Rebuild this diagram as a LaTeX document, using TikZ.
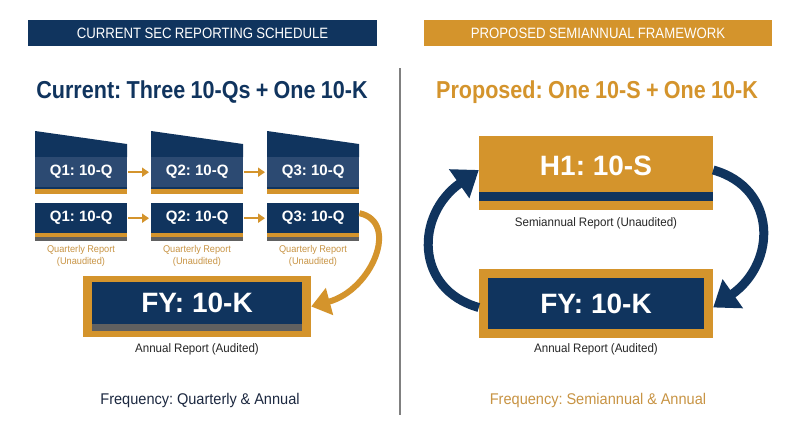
\documentclass[tikz,border=0pt]{standalone}
\usepackage{fontspec}
\setmainfont{Liberation Sans}
\newfontfamily\narrowfont[FakeStretch=0.88,WordSpace=0.88]{Liberation Sans}
\newfontfamily\lblfont[FakeStretch=0.94,WordSpace=0.94]{Liberation Sans}
\frenchspacing
\usetikzlibrary{arrows.meta,positioning}
\definecolor{navy}{RGB}{16,52,94}
\definecolor{navylight}{RGB}{44,74,114}
\definecolor{gold}{RGB}{212,148,44}
\definecolor{goldtext}{RGB}{200,148,68}
\definecolor{band}{RGB}{96,96,96}
\definecolor{ink}{RGB}{28,40,64}
\definecolor{divider}{RGB}{128,128,128}

\begin{document}
\begin{tikzpicture}[x=1pt,y=-1pt,
		qbox/.style={minimum width=92pt,minimum height=30pt,inner sep=0pt,text=white,font=\bfseries\fontsize{15}{15}\selectfont},
		bigbox/.style={inner sep=0pt,text=white,font=\bfseries\fontsize{28}{28}\selectfont},
		banner/.style={minimum height=26pt,inner sep=0pt,text=white,font=\narrowfont\fontsize{15}{15}\selectfont},
		headline/.style={font=\narrowfont\bfseries\fontsize{24.5}{24.5}\selectfont},
		qlbl/.style={align=center,text=goldtext,font=\lblfont\fontsize{9.8}{12}\selectfont},
		lbl/.style={text=black!85,font=\lblfont\fontsize{12.3}{14}\selectfont},
		freq/.style={font=\lblfont\fontsize{15.5}{16}\selectfont},
		garrow/.style={draw=gold,line width=2pt,shorten <=1pt,shorten >=2pt,-{Triangle[width=9pt,length=7pt]}},
		navarrow/.style={draw=navy,line width=9pt,-{Triangle[width=34pt,length=24pt]}}]
	\path[fill=white,use as bounding box] (0,0) rectangle (800,447);
	\node[banner,fill=navy,minimum width=349pt] (hl) at (202.5,33) {CURRENT SEC REPORTING SCHEDULE};
	\node[banner,fill=gold,minimum width=348pt] (hr) at (598,33) {PROPOSED SEMIANNUAL FRAMEWORK};
	\node[headline,text=navy] (cl) at (202,92) {Current: Three 10-Qs + One 10-K};
	\node[headline,text=gold] (pl) at (597,92) {Proposed: One 10-S + One 10-K};
	\draw[draw=divider,line width=1.3pt] (400,68) -- (400,415);
	\foreach \i/\xl in {1/35,2/151,3/267}{
		\fill[navy] (\xl,131) -- (\xl+92,144) -- (\xl+92,157) -- (\xl,157) -- cycle;
		\node[qbox,fill=navylight,anchor=north west] (t\i) at (\xl,157) {Q\i: 10-Q};
		\fill[navy] (\xl,187) rectangle (\xl+92,189);
		\fill[gold] (\xl,189) rectangle (\xl+92,194);
		\node[qbox,fill=navy,anchor=north west] (b\i) at (\xl,203) {Q\i: 10-Q};
		\fill[gold] (\xl,233) rectangle (\xl+92,236.5);
		\fill[band] (\xl,236.5) rectangle (\xl+92,241);
		\node[qlbl] (l\i) at (\xl+46,256) {Quarterly Report\\(Unaudited)};
	}
	\foreach \a/\b in {1/2,2/3}{
		\draw[garrow] (t\a) -- (t\b);
		\draw[garrow] (b\a) -- (b\b);
	}
	\node[fill=gold,minimum width=228pt,minimum height=61pt] (fyl) at (197,306.5) {};
	\fill[band] (92,324) rectangle (302,331);
	\node[bigbox,fill=navy,minimum width=210pt,minimum height=42pt] (fylt) at (197,303) {FY: 10-K};
	\node[lbl] (al) at (197,349) {Annual Report (Audited)};
	\draw[draw=gold,line width=6pt,-{Triangle[width=27pt,length=19pt]}]
		([yshift=5pt]b3.east) .. controls (400,222) and (372,290) .. (fyl.east);
	\node[fill=gold,minimum width=234pt,minimum height=74pt] (h1) at (596,173) {};
	\fill[navy] (479,192) rectangle (713,201);
	\node[bigbox] (h1t) at (596,166) {H1: 10-S};
	\node[lbl] (sl) at (596,223) {Semiannual Report (Unaudited)};
	\node[fill=gold,minimum width=234pt,minimum height=69pt] (fyr) at (596,303.5) {};
	\node[bigbox,fill=navy,minimum width=216pt,minimum height=51pt] (fyrt) at (596,303.5) {FY: 10-K};
	\node[lbl] (ar) at (596,349) {Annual Report (Audited)};
	\draw[navarrow] ([yshift=3pt]h1.east) .. controls +(64,18) and +(64,-45) .. ([yshift=-4pt]fyr.east);
	\draw[navarrow] ([yshift=-4pt]fyr.west) .. controls +(-64,-18) and +(-64,45) .. ([yshift=3pt]h1.west);
	\node[freq,text=ink] (fl) at (200,400) {Frequency: Quarterly \& Annual};
	\node[freq,text=goldtext] (fr) at (598,400) {Frequency: Semiannual \& Annual};
\end{tikzpicture}
\end{document}
